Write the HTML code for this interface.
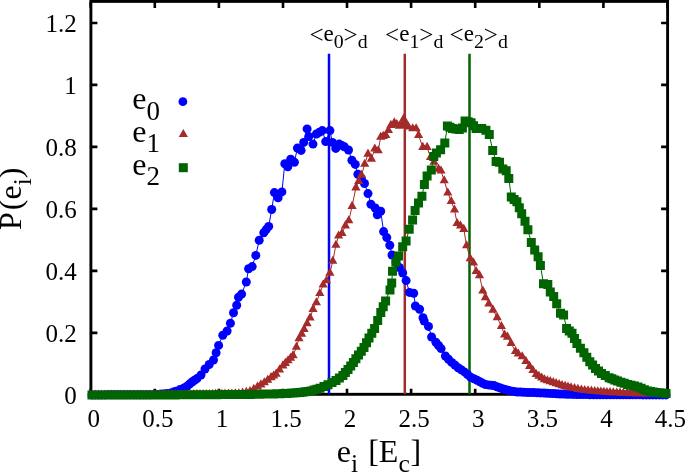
<!DOCTYPE html>
<html><head><meta charset="utf-8"><style>html,body{margin:0;padding:0;background:#fff;width:685px;height:473px;overflow:hidden}svg{display:block;font-family:"Liberation Serif",serif;will-change:transform}</style></head><body>
<svg width="685" height="473" viewBox="0 0 685 473">
<path d="M90.9 394.9h6.5M667.6 394.9h-6.5M90.9 332.9h6.5M667.6 332.9h-6.5M90.9 270.9h6.5M667.6 270.9h-6.5M90.9 208.9h6.5M667.6 208.9h-6.5M90.9 146.9h6.5M667.6 146.9h-6.5M90.9 84.9h6.5M667.6 84.9h-6.5M90.9 23h6.5M667.6 23h-6.5M90.7 394.3v-5.6M90.7 1.4v6.5M154.8 394.3v-5.6M154.8 1.4v6.5M218.9 394.3v-5.6M218.9 1.4v6.5M283 394.3v-5.6M283 1.4v6.5M347 394.3v-5.6M347 1.4v6.5M411.1 394.3v-5.6M411.1 1.4v6.5M475.2 394.3v-5.6M475.2 1.4v6.5M539.3 394.3v-5.6M539.3 1.4v6.5M603.4 394.3v-5.6M603.4 1.4v6.5M667.4 394.3v-5.6M667.4 1.4v6.5" stroke="#000" stroke-width="2.6" fill="none"/>
<rect x="90.9" y="1.4" width="576.7" height="392.9" fill="none" stroke="#000" stroke-width="2.9"/>
<path d="M329 53.7V394.3" stroke="#0000ff" stroke-width="2.5"/>
<path d="M404.8 53.7V394.3" stroke="#a52a2a" stroke-width="2.5"/>
<path d="M469.5 53.7V394.3" stroke="#006400" stroke-width="2.5"/>
<g fill="#0000ff"><polyline fill="none" stroke="#0000ff" stroke-width="1" points="92,394.9 95.1,394.9 98.2,394.9 101.3,394.9 104.4,394.9 107.6,394.8 110.7,394.8 113.8,394.8 116.9,394.8 120,394.8 123.3,394.8 126.7,394.8 130,394.8 133.3,394.8 136.7,394.8 140,394.8 143.3,394.8 146.7,394.8 150,394.8 154,394.6 158,394.4 161.5,394.1 165,393.8 168,393.4 171,393 173.5,392.1 176,391.3 180,389.6 184,388 187,386.2 189.5,384.1 192,382 194.5,380.3 197,378.6 201,375 205,369 209.2,364.5 213.5,360 216.1,352.7 218.6,345.4 222.8,335.2 227.1,331 230.4,323.3 233.5,312.7 236.7,305.3 238.5,297.3 241.6,294.1 246.3,282 248.6,268.7 252.2,266.6 255.8,255.4 259.2,240.2 263.8,232.8 266.2,229.6 268.7,226.4 271.7,209.5 274.4,192.6 278.1,197.8 281.9,191.9 284.8,163.7 287.8,166.7 290.7,159.3 294.4,162.2 297.4,148.1 301.1,150.4 303.7,142.4 307.1,128.9 308.8,136.5 313,144.1 316.4,134 319.4,132.3 322.3,130.6 325.7,141.6 329.9,130.6 332.4,142.4 335.8,148.4 339.2,144.1 341.8,145.4 344.3,146.7 348.5,150 351.9,160.2 355.3,164.4 357.9,174.3 361.3,178.5 364.5,183.5 368,193.6 370.9,204.2 375.2,208 377.3,214.7 380.7,211.3 383.6,231.6 386.8,237.6 389.8,245.2 392,255 396,262 399.4,267.5 402.7,273 406.1,280.6 409.5,292.4 413.7,293.3 415.4,306 419.6,309.3 423,317.8 424.2,321.1 428.5,326.4 431.6,337 435.9,342.3 438.5,345.5 441.1,348.6 445.4,356 448.5,359.2 451.7,362.4 454.9,365 458.1,367.7 461.2,369.8 464.4,371.9 467.5,374.5 470.7,377.2 473.9,378.8 477.1,380.3 479.9,381.7 482.7,383.2 485.5,384.6 488.3,384.9 491.2,385.3 494,385.6 496.8,386.7 499.7,387.7 502.5,388.8 505.3,389.5 508.1,390.2 510.9,390.9 514.1,391.4 517.3,392 520.5,392.1 523.6,392.2 526.8,392.4 530,392.5 533.5,392.6 537,392.8 540.5,392.9 544,393 547.2,393.2 550.4,393.4 553.6,393.6 556.8,393.8 560,394 563.3,394.1 566.7,394.2 570,394.3 573.3,394.4 576.7,394.5 580,394.6 583.3,394.6 586.7,394.6 590,394.7 593.3,394.7 596.7,394.7 600,394.7 603.3,394.7 606.7,394.7 610,394.8 613.3,394.8 616.7,394.8 620,394.8 623.3,394.8 626.6,394.8 629.9,394.8 633.1,394.8 636.4,394.8 639.7,394.8 643,394.9 646.3,394.9 649.6,394.9 652.9,394.9 656.1,394.9 659.4,394.9 662.7,394.9 666,394.9"/><circle cx="92" cy="394.9" r="4.5"/><circle cx="95.1" cy="394.9" r="4.5"/><circle cx="98.2" cy="394.9" r="4.5"/><circle cx="101.3" cy="394.9" r="4.5"/><circle cx="104.4" cy="394.9" r="4.5"/><circle cx="107.6" cy="394.8" r="4.5"/><circle cx="110.7" cy="394.8" r="4.5"/><circle cx="113.8" cy="394.8" r="4.5"/><circle cx="116.9" cy="394.8" r="4.5"/><circle cx="120" cy="394.8" r="4.5"/><circle cx="123.3" cy="394.8" r="4.5"/><circle cx="126.7" cy="394.8" r="4.5"/><circle cx="130" cy="394.8" r="4.5"/><circle cx="133.3" cy="394.8" r="4.5"/><circle cx="136.7" cy="394.8" r="4.5"/><circle cx="140" cy="394.8" r="4.5"/><circle cx="143.3" cy="394.8" r="4.5"/><circle cx="146.7" cy="394.8" r="4.5"/><circle cx="150" cy="394.8" r="4.5"/><circle cx="154" cy="394.6" r="4.5"/><circle cx="158" cy="394.4" r="4.5"/><circle cx="161.5" cy="394.1" r="4.5"/><circle cx="165" cy="393.8" r="4.5"/><circle cx="168" cy="393.4" r="4.5"/><circle cx="171" cy="393" r="4.5"/><circle cx="173.5" cy="392.1" r="4.5"/><circle cx="176" cy="391.3" r="4.5"/><circle cx="180" cy="389.6" r="4.5"/><circle cx="184" cy="388" r="4.5"/><circle cx="187" cy="386.2" r="4.5"/><circle cx="189.5" cy="384.1" r="4.5"/><circle cx="192" cy="382" r="4.5"/><circle cx="194.5" cy="380.3" r="4.5"/><circle cx="197" cy="378.6" r="4.5"/><circle cx="201" cy="375" r="4.5"/><circle cx="205" cy="369" r="4.5"/><circle cx="209.2" cy="364.5" r="4.5"/><circle cx="213.5" cy="360" r="4.5"/><circle cx="216.1" cy="352.7" r="4.5"/><circle cx="218.6" cy="345.4" r="4.5"/><circle cx="222.8" cy="335.2" r="4.5"/><circle cx="227.1" cy="331" r="4.5"/><circle cx="230.4" cy="323.3" r="4.5"/><circle cx="233.5" cy="312.7" r="4.5"/><circle cx="236.7" cy="305.3" r="4.5"/><circle cx="238.5" cy="297.3" r="4.5"/><circle cx="241.6" cy="294.1" r="4.5"/><circle cx="246.3" cy="282" r="4.5"/><circle cx="248.6" cy="268.7" r="4.5"/><circle cx="252.2" cy="266.6" r="4.5"/><circle cx="255.8" cy="255.4" r="4.5"/><circle cx="259.2" cy="240.2" r="4.5"/><circle cx="263.8" cy="232.8" r="4.5"/><circle cx="266.2" cy="229.6" r="4.5"/><circle cx="268.7" cy="226.4" r="4.5"/><circle cx="271.7" cy="209.5" r="4.5"/><circle cx="274.4" cy="192.6" r="4.5"/><circle cx="278.1" cy="197.8" r="4.5"/><circle cx="281.9" cy="191.9" r="4.5"/><circle cx="284.8" cy="163.7" r="4.5"/><circle cx="287.8" cy="166.7" r="4.5"/><circle cx="290.7" cy="159.3" r="4.5"/><circle cx="294.4" cy="162.2" r="4.5"/><circle cx="297.4" cy="148.1" r="4.5"/><circle cx="301.1" cy="150.4" r="4.5"/><circle cx="303.7" cy="142.4" r="4.5"/><circle cx="307.1" cy="128.9" r="4.5"/><circle cx="308.8" cy="136.5" r="4.5"/><circle cx="313" cy="144.1" r="4.5"/><circle cx="316.4" cy="134" r="4.5"/><circle cx="319.4" cy="132.3" r="4.5"/><circle cx="322.3" cy="130.6" r="4.5"/><circle cx="325.7" cy="141.6" r="4.5"/><circle cx="329.9" cy="130.6" r="4.5"/><circle cx="332.4" cy="142.4" r="4.5"/><circle cx="335.8" cy="148.4" r="4.5"/><circle cx="339.2" cy="144.1" r="4.5"/><circle cx="341.8" cy="145.4" r="4.5"/><circle cx="344.3" cy="146.7" r="4.5"/><circle cx="348.5" cy="150" r="4.5"/><circle cx="351.9" cy="160.2" r="4.5"/><circle cx="355.3" cy="164.4" r="4.5"/><circle cx="357.9" cy="174.3" r="4.5"/><circle cx="361.3" cy="178.5" r="4.5"/><circle cx="364.5" cy="183.5" r="4.5"/><circle cx="368" cy="193.6" r="4.5"/><circle cx="370.9" cy="204.2" r="4.5"/><circle cx="375.2" cy="208" r="4.5"/><circle cx="377.3" cy="214.7" r="4.5"/><circle cx="380.7" cy="211.3" r="4.5"/><circle cx="383.6" cy="231.6" r="4.5"/><circle cx="386.8" cy="237.6" r="4.5"/><circle cx="389.8" cy="245.2" r="4.5"/><circle cx="392" cy="255" r="4.5"/><circle cx="396" cy="262" r="4.5"/><circle cx="399.4" cy="267.5" r="4.5"/><circle cx="402.7" cy="273" r="4.5"/><circle cx="406.1" cy="280.6" r="4.5"/><circle cx="409.5" cy="292.4" r="4.5"/><circle cx="413.7" cy="293.3" r="4.5"/><circle cx="415.4" cy="306" r="4.5"/><circle cx="419.6" cy="309.3" r="4.5"/><circle cx="423" cy="317.8" r="4.5"/><circle cx="424.2" cy="321.1" r="4.5"/><circle cx="428.5" cy="326.4" r="4.5"/><circle cx="431.6" cy="337" r="4.5"/><circle cx="435.9" cy="342.3" r="4.5"/><circle cx="438.5" cy="345.5" r="4.5"/><circle cx="441.1" cy="348.6" r="4.5"/><circle cx="445.4" cy="356" r="4.5"/><circle cx="448.5" cy="359.2" r="4.5"/><circle cx="451.7" cy="362.4" r="4.5"/><circle cx="454.9" cy="365" r="4.5"/><circle cx="458.1" cy="367.7" r="4.5"/><circle cx="461.2" cy="369.8" r="4.5"/><circle cx="464.4" cy="371.9" r="4.5"/><circle cx="467.5" cy="374.5" r="4.5"/><circle cx="470.7" cy="377.2" r="4.5"/><circle cx="473.9" cy="378.8" r="4.5"/><circle cx="477.1" cy="380.3" r="4.5"/><circle cx="479.9" cy="381.7" r="4.5"/><circle cx="482.7" cy="383.2" r="4.5"/><circle cx="485.5" cy="384.6" r="4.5"/><circle cx="488.3" cy="384.9" r="4.5"/><circle cx="491.2" cy="385.3" r="4.5"/><circle cx="494" cy="385.6" r="4.5"/><circle cx="496.8" cy="386.7" r="4.5"/><circle cx="499.7" cy="387.7" r="4.5"/><circle cx="502.5" cy="388.8" r="4.5"/><circle cx="505.3" cy="389.5" r="4.5"/><circle cx="508.1" cy="390.2" r="4.5"/><circle cx="510.9" cy="390.9" r="4.5"/><circle cx="514.1" cy="391.4" r="4.5"/><circle cx="517.3" cy="392" r="4.5"/><circle cx="520.5" cy="392.1" r="4.5"/><circle cx="523.6" cy="392.2" r="4.5"/><circle cx="526.8" cy="392.4" r="4.5"/><circle cx="530" cy="392.5" r="4.5"/><circle cx="533.5" cy="392.6" r="4.5"/><circle cx="537" cy="392.8" r="4.5"/><circle cx="540.5" cy="392.9" r="4.5"/><circle cx="544" cy="393" r="4.5"/><circle cx="547.2" cy="393.2" r="4.5"/><circle cx="550.4" cy="393.4" r="4.5"/><circle cx="553.6" cy="393.6" r="4.5"/><circle cx="556.8" cy="393.8" r="4.5"/><circle cx="560" cy="394" r="4.5"/><circle cx="563.3" cy="394.1" r="4.5"/><circle cx="566.7" cy="394.2" r="4.5"/><circle cx="570" cy="394.3" r="4.5"/><circle cx="573.3" cy="394.4" r="4.5"/><circle cx="576.7" cy="394.5" r="4.5"/><circle cx="580" cy="394.6" r="4.5"/><circle cx="583.3" cy="394.6" r="4.5"/><circle cx="586.7" cy="394.6" r="4.5"/><circle cx="590" cy="394.7" r="4.5"/><circle cx="593.3" cy="394.7" r="4.5"/><circle cx="596.7" cy="394.7" r="4.5"/><circle cx="600" cy="394.7" r="4.5"/><circle cx="603.3" cy="394.7" r="4.5"/><circle cx="606.7" cy="394.7" r="4.5"/><circle cx="610" cy="394.8" r="4.5"/><circle cx="613.3" cy="394.8" r="4.5"/><circle cx="616.7" cy="394.8" r="4.5"/><circle cx="620" cy="394.8" r="4.5"/><circle cx="623.3" cy="394.8" r="4.5"/><circle cx="626.6" cy="394.8" r="4.5"/><circle cx="629.9" cy="394.8" r="4.5"/><circle cx="633.1" cy="394.8" r="4.5"/><circle cx="636.4" cy="394.8" r="4.5"/><circle cx="639.7" cy="394.8" r="4.5"/><circle cx="643" cy="394.9" r="4.5"/><circle cx="646.3" cy="394.9" r="4.5"/><circle cx="649.6" cy="394.9" r="4.5"/><circle cx="652.9" cy="394.9" r="4.5"/><circle cx="656.1" cy="394.9" r="4.5"/><circle cx="659.4" cy="394.9" r="4.5"/><circle cx="662.7" cy="394.9" r="4.5"/><circle cx="666" cy="394.9" r="4.5"/></g>
<g fill="#a52a2a"><polyline fill="none" stroke="#a52a2a" stroke-width="1" points="92,394.9 95.2,394.9 98.4,394.9 101.7,394.9 104.9,394.9 108.1,394.9 111.3,394.9 114.6,394.9 117.8,394.9 121,394.9 124.2,394.8 127.4,394.8 130.7,394.8 133.9,394.8 137.1,394.8 140.3,394.8 143.6,394.8 146.8,394.8 150,394.8 153.1,394.8 156.2,394.8 159.4,394.7 162.5,394.7 165.6,394.7 168.8,394.7 171.9,394.7 175,394.6 178.1,394.6 181.2,394.6 184.4,394.6 187.5,394.6 190.6,394.6 193.8,394.5 196.9,394.5 200,394.5 203.1,394.4 206.2,394.4 209.4,394.3 212.5,394.2 215.6,394.2 218.8,394.1 221.9,394.1 225,394 228.5,393.9 231.9,393.8 235.4,393.7 238.9,393.6 242.6,392.9 246.3,392.2 250,391.5 253.8,389.1 257.5,386.8 260.9,384.7 264.3,382.6 267.7,380.1 271.1,377.5 273.6,375.8 276.1,374.1 279.5,369.9 282.9,365.7 285.4,363.1 288,360.6 290.6,358.1 293.1,355.5 296.4,347.1 299,338.6 301.6,334 304.1,329.4 307.1,323.6 310.1,317.8 313,309.4 316.4,302.6 319.8,293.3 323.1,284.8 326.5,280.6 329.9,273 332.8,261.1 335.9,245.1 338.6,235.8 342,233.3 345.4,225.7 348.8,220.6 352.1,206.2 355.9,187.7 358.7,181.4 361.5,175.1 364.7,164.1 368,154 371.4,159 374.8,148.9 378.2,150.6 380.7,137.1 383.2,136.2 385.8,135.4 388.4,130.3 390.9,125.2 394.3,122.7 396.8,124.4 399.3,126.1 401.7,125.2 403.5,119 406,123 408.5,126.9 412.7,128.6 416.1,128.6 418.6,135.4 422.8,147.2 427.1,147.2 430.5,157.4 434,162 438.6,169.1 441,170.8 444.2,180.6 447.8,192.8 451.2,201.3 454.5,209.8 457.1,223.3 460.5,225.8 463.8,229.2 466.6,245.6 470.2,258.6 473.5,262.8 476.1,271.3 479.5,275.5 482.8,290.8 485.4,297.5 488.8,303.8 493,310 497.2,317.5 501.4,326.4 504.6,334.9 507.5,337 511.1,343.3 515.5,351.4 518.3,353.9 522.2,356.6 525.9,361.4 529.6,366.2 532.9,370.3 536.2,374.4 538.9,376.1 541.7,377.9 544.4,379.6 547.4,380.6 550.3,381.5 553.3,382.5 556.2,383.5 559.2,384.5 562.1,385.5 565.1,386.2 568,387 571,387.7 574.5,388.4 577.9,389.2 581.4,389.9 584.7,390.3 588,390.6 591.4,391 594.7,391.4 597.8,391.6 600.8,391.8 603.9,392.1 606.9,392.3 610,392.5 613.3,392.7 616.7,392.8 620,393 623.3,393.2 626.7,393.3 630,393.5 633.3,393.6 636.5,393.7 639.8,393.8 643.1,393.9 646.4,394 649.6,394 652.9,394.1 656.2,394.2 659.5,394.3 662.7,394.4 666,394.5"/><path d="M92 389.5l4.6 8.1h-9.2zM95.2 389.5l4.6 8.1h-9.2zM98.4 389.5l4.6 8.1h-9.2zM101.7 389.5l4.6 8.1h-9.2zM104.9 389.5l4.6 8.1h-9.2zM108.1 389.5l4.6 8.1h-9.2zM111.3 389.5l4.6 8.1h-9.2zM114.6 389.5l4.6 8.1h-9.2zM117.8 389.5l4.6 8.1h-9.2zM121 389.5l4.6 8.1h-9.2zM124.2 389.4l4.6 8.1h-9.2zM127.4 389.4l4.6 8.1h-9.2zM130.7 389.4l4.6 8.1h-9.2zM133.9 389.4l4.6 8.1h-9.2zM137.1 389.4l4.6 8.1h-9.2zM140.3 389.4l4.6 8.1h-9.2zM143.6 389.4l4.6 8.1h-9.2zM146.8 389.4l4.6 8.1h-9.2zM150 389.4l4.6 8.1h-9.2zM153.1 389.4l4.6 8.1h-9.2zM156.2 389.4l4.6 8.1h-9.2zM159.4 389.3l4.6 8.1h-9.2zM162.5 389.3l4.6 8.1h-9.2zM165.6 389.3l4.6 8.1h-9.2zM168.8 389.3l4.6 8.1h-9.2zM171.9 389.3l4.6 8.1h-9.2zM175 389.2l4.6 8.1h-9.2zM178.1 389.2l4.6 8.1h-9.2zM181.2 389.2l4.6 8.1h-9.2zM184.4 389.2l4.6 8.1h-9.2zM187.5 389.2l4.6 8.1h-9.2zM190.6 389.2l4.6 8.1h-9.2zM193.8 389.1l4.6 8.1h-9.2zM196.9 389.1l4.6 8.1h-9.2zM200 389.1l4.6 8.1h-9.2zM203.1 389l4.6 8.1h-9.2zM206.2 389l4.6 8.1h-9.2zM209.4 388.9l4.6 8.1h-9.2zM212.5 388.9l4.6 8.1h-9.2zM215.6 388.8l4.6 8.1h-9.2zM218.8 388.7l4.6 8.1h-9.2zM221.9 388.7l4.6 8.1h-9.2zM225 388.6l4.6 8.1h-9.2zM228.5 388.5l4.6 8.1h-9.2zM231.9 388.4l4.6 8.1h-9.2zM235.4 388.3l4.6 8.1h-9.2zM238.9 388.2l4.6 8.1h-9.2zM242.6 387.5l4.6 8.1h-9.2zM246.3 386.8l4.6 8.1h-9.2zM250 386.1l4.6 8.1h-9.2zM253.8 383.8l4.6 8.1h-9.2zM257.5 381.4l4.6 8.1h-9.2zM260.9 379.3l4.6 8.1h-9.2zM264.3 377.2l4.6 8.1h-9.2zM267.7 374.7l4.6 8.1h-9.2zM271.1 372.1l4.6 8.1h-9.2zM273.6 370.4l4.6 8.1h-9.2zM276.1 368.7l4.6 8.1h-9.2zM279.5 364.5l4.6 8.1h-9.2zM282.9 360.3l4.6 8.1h-9.2zM285.4 357.8l4.6 8.1h-9.2zM288 355.2l4.6 8.1h-9.2zM290.6 352.7l4.6 8.1h-9.2zM293.1 350.1l4.6 8.1h-9.2zM296.4 341.7l4.6 8.1h-9.2zM299 333.2l4.6 8.1h-9.2zM301.6 328.6l4.6 8.1h-9.2zM304.1 324l4.6 8.1h-9.2zM307.1 318.2l4.6 8.1h-9.2zM310.1 312.4l4.6 8.1h-9.2zM313 304l4.6 8.1h-9.2zM316.4 297.2l4.6 8.1h-9.2zM319.8 287.9l4.6 8.1h-9.2zM323.1 279.4l4.6 8.1h-9.2zM326.5 275.2l4.6 8.1h-9.2zM329.9 267.6l4.6 8.1h-9.2zM332.8 255.7l4.6 8.1h-9.2zM335.9 239.7l4.6 8.1h-9.2zM338.6 230.4l4.6 8.1h-9.2zM342 227.9l4.6 8.1h-9.2zM345.4 220.3l4.6 8.1h-9.2zM348.8 215.2l4.6 8.1h-9.2zM352.1 200.8l4.6 8.1h-9.2zM355.9 182.3l4.6 8.1h-9.2zM358.7 176l4.6 8.1h-9.2zM361.5 169.7l4.6 8.1h-9.2zM364.7 158.7l4.6 8.1h-9.2zM368 148.6l4.6 8.1h-9.2zM371.4 153.6l4.6 8.1h-9.2zM374.8 143.5l4.6 8.1h-9.2zM378.2 145.2l4.6 8.1h-9.2zM380.7 131.7l4.6 8.1h-9.2zM383.2 130.8l4.6 8.1h-9.2zM385.8 130l4.6 8.1h-9.2zM388.4 124.9l4.6 8.1h-9.2zM390.9 119.8l4.6 8.1h-9.2zM394.3 117.3l4.6 8.1h-9.2zM396.8 119l4.6 8.1h-9.2zM399.3 120.7l4.6 8.1h-9.2zM401.7 119.8l4.6 8.1h-9.2zM403.5 113.6l4.6 8.1h-9.2zM406 117.5l4.6 8.1h-9.2zM408.5 121.5l4.6 8.1h-9.2zM412.7 123.2l4.6 8.1h-9.2zM416.1 123.2l4.6 8.1h-9.2zM418.6 130l4.6 8.1h-9.2zM422.8 141.8l4.6 8.1h-9.2zM427.1 141.8l4.6 8.1h-9.2zM430.5 152l4.6 8.1h-9.2zM434 156.6l4.6 8.1h-9.2zM438.6 163.7l4.6 8.1h-9.2zM441 165.4l4.6 8.1h-9.2zM444.2 175.2l4.6 8.1h-9.2zM447.8 187.4l4.6 8.1h-9.2zM451.2 195.9l4.6 8.1h-9.2zM454.5 204.4l4.6 8.1h-9.2zM457.1 217.9l4.6 8.1h-9.2zM460.5 220.4l4.6 8.1h-9.2zM463.8 223.8l4.6 8.1h-9.2zM466.6 240.2l4.6 8.1h-9.2zM470.2 253.2l4.6 8.1h-9.2zM473.5 257.4l4.6 8.1h-9.2zM476.1 265.9l4.6 8.1h-9.2zM479.5 270.1l4.6 8.1h-9.2zM482.8 285.4l4.6 8.1h-9.2zM485.4 292.1l4.6 8.1h-9.2zM488.8 298.4l4.6 8.1h-9.2zM493 304.6l4.6 8.1h-9.2zM497.2 312.1l4.6 8.1h-9.2zM501.4 321l4.6 8.1h-9.2zM504.6 329.5l4.6 8.1h-9.2zM507.5 331.6l4.6 8.1h-9.2zM511.1 337.9l4.6 8.1h-9.2zM515.5 346l4.6 8.1h-9.2zM518.3 348.5l4.6 8.1h-9.2zM522.2 351.2l4.6 8.1h-9.2zM525.9 356l4.6 8.1h-9.2zM529.6 360.8l4.6 8.1h-9.2zM532.9 364.9l4.6 8.1h-9.2zM536.2 369l4.6 8.1h-9.2zM538.9 370.7l4.6 8.1h-9.2zM541.7 372.5l4.6 8.1h-9.2zM544.4 374.2l4.6 8.1h-9.2zM547.4 375.2l4.6 8.1h-9.2zM550.3 376.1l4.6 8.1h-9.2zM553.3 377.1l4.6 8.1h-9.2zM556.2 378.1l4.6 8.1h-9.2zM559.2 379.1l4.6 8.1h-9.2zM562.1 380.1l4.6 8.1h-9.2zM565.1 380.8l4.6 8.1h-9.2zM568 381.6l4.6 8.1h-9.2zM571 382.3l4.6 8.1h-9.2zM574.5 383l4.6 8.1h-9.2zM577.9 383.8l4.6 8.1h-9.2zM581.4 384.5l4.6 8.1h-9.2zM584.7 384.9l4.6 8.1h-9.2zM588 385.2l4.6 8.1h-9.2zM591.4 385.6l4.6 8.1h-9.2zM594.7 386l4.6 8.1h-9.2zM597.8 386.2l4.6 8.1h-9.2zM600.8 386.4l4.6 8.1h-9.2zM603.9 386.7l4.6 8.1h-9.2zM606.9 386.9l4.6 8.1h-9.2zM610 387.1l4.6 8.1h-9.2zM613.3 387.3l4.6 8.1h-9.2zM616.7 387.4l4.6 8.1h-9.2zM620 387.6l4.6 8.1h-9.2zM623.3 387.8l4.6 8.1h-9.2zM626.7 387.9l4.6 8.1h-9.2zM630 388.1l4.6 8.1h-9.2zM633.3 388.2l4.6 8.1h-9.2zM636.5 388.3l4.6 8.1h-9.2zM639.8 388.4l4.6 8.1h-9.2zM643.1 388.5l4.6 8.1h-9.2zM646.4 388.6l4.6 8.1h-9.2zM649.6 388.6l4.6 8.1h-9.2zM652.9 388.7l4.6 8.1h-9.2zM656.2 388.8l4.6 8.1h-9.2zM659.5 388.9l4.6 8.1h-9.2zM662.7 389l4.6 8.1h-9.2zM666 389.1l4.6 8.1h-9.2z"/></g>
<g fill="#006400"><polyline fill="none" stroke="#006400" stroke-width="1" points="92,394.9 95.2,394.9 98.4,394.9 101.7,394.9 104.9,394.9 108.1,394.9 111.3,394.9 114.6,394.9 117.8,394.9 121,394.9 124.2,394.9 127.4,394.9 130.7,394.9 133.9,394.9 137.1,394.9 140.3,394.9 143.6,394.9 146.8,394.9 150,394.9 153.1,394.9 156.2,394.9 159.4,394.9 162.5,394.9 165.6,394.9 168.8,394.9 171.9,394.9 175,394.9 178.1,394.8 181.2,394.8 184.4,394.8 187.5,394.8 190.6,394.8 193.8,394.8 196.9,394.8 200,394.8 203.3,394.8 206.7,394.8 210,394.7 213.3,394.7 216.7,394.7 220,394.6 223.3,394.6 226.7,394.6 230,394.6 233.3,394.6 236.7,394.5 240,394.5 243.3,394.4 246.7,394.4 250,394.4 253.3,394.3 256.7,394.2 260,394.2 263.4,394.1 266.7,394 270.1,393.9 273.4,393.9 276.8,393.8 280.1,393.7 283.5,393.6 286.7,393.4 289.9,393.2 293,393 296.2,392.8 299.4,392.6 302.3,392.2 305.2,391.8 308.1,391.4 311,391 314,390.1 317,389.2 320,388.3 324,386.6 328,384.8 332,382.6 336,380.5 339.4,378 342.9,375.5 345.4,372.5 348,369.5 350.7,366 353.4,362.5 355.9,358.8 358.5,355 361.2,351.2 364,347.5 366.5,342.8 369,338 371.8,333.2 374.6,328.5 377.7,320.5 380.8,312.5 383.2,306.8 385.6,301 390,290 391.7,283.1 392.5,271.3 395.9,262 398.5,256.1 402.7,246.8 406.1,241 409.2,229.2 412.6,219.9 415.1,210.6 418.5,203 421.9,196.2 424.4,184.4 427.1,176 431.3,170.1 433.8,156.5 436.4,153.1 440.6,149.8 444.8,143 447.4,126.1 449.9,127.3 452.5,128.6 455.9,129.1 459.2,129.5 462.4,127.9 465.1,121 468.1,121.8 471.1,122.7 473.6,125.7 476.1,128.6 478.9,128.6 481.7,128.5 485.9,130.2 489.3,134.4 492.7,150.5 496.1,161.5 499.5,162.3 502.8,169.1 506.2,170.8 508.8,178.4 511.3,197 514.1,199.4 516.9,201.8 519.3,207.8 521.7,213.7 525,221.3 527.9,229.8 531.3,242.5 534.7,250.1 538.1,256.8 540.4,265.5 543.5,283.7 547.8,284.5 550.3,292.1 553.7,296.4 556.7,303.7 560.5,313.3 563.6,315 566.6,328.5 569.3,330.9 572,333.2 574.5,338.4 576.9,343.6 580.4,348.2 583.9,352.8 586.8,357.3 589.8,361.8 592.6,365.1 595.5,368.4 598.5,370.9 601.5,373.5 605.3,375.6 609.1,377.7 611.9,378.8 614.7,380 617.5,381.1 620.9,382.2 624.3,383.3 627.7,384.4 631.1,385.3 634.4,386.1 637.8,387 641.1,388.3 644.4,389.7 647.7,391 650.5,391.5 653.2,392 656,392.5 659.3,392.8 662.7,393.1 666,393.4"/><path d="M87.5 390.4h9v9h-9zM90.7 390.4h9v9h-9zM93.9 390.4h9v9h-9zM97.2 390.4h9v9h-9zM100.4 390.4h9v9h-9zM103.6 390.4h9v9h-9zM106.8 390.4h9v9h-9zM110.1 390.4h9v9h-9zM113.3 390.4h9v9h-9zM116.5 390.4h9v9h-9zM119.7 390.4h9v9h-9zM122.9 390.4h9v9h-9zM126.2 390.4h9v9h-9zM129.4 390.4h9v9h-9zM132.6 390.4h9v9h-9zM135.8 390.4h9v9h-9zM139.1 390.4h9v9h-9zM142.3 390.4h9v9h-9zM145.5 390.4h9v9h-9zM148.6 390.4h9v9h-9zM151.8 390.4h9v9h-9zM154.9 390.4h9v9h-9zM158 390.4h9v9h-9zM161.1 390.4h9v9h-9zM164.2 390.4h9v9h-9zM167.4 390.4h9v9h-9zM170.5 390.4h9v9h-9zM173.6 390.3h9v9h-9zM176.8 390.3h9v9h-9zM179.9 390.3h9v9h-9zM183 390.3h9v9h-9zM186.1 390.3h9v9h-9zM189.2 390.3h9v9h-9zM192.4 390.3h9v9h-9zM195.5 390.3h9v9h-9zM198.8 390.3h9v9h-9zM202.2 390.2h9v9h-9zM205.5 390.2h9v9h-9zM208.8 390.2h9v9h-9zM212.2 390.2h9v9h-9zM215.5 390.1h9v9h-9zM218.8 390.1h9v9h-9zM222.2 390.1h9v9h-9zM225.5 390.1h9v9h-9zM228.8 390.1h9v9h-9zM232.2 390h9v9h-9zM235.5 390h9v9h-9zM238.8 389.9h9v9h-9zM242.2 389.9h9v9h-9zM245.5 389.9h9v9h-9zM248.8 389.8h9v9h-9zM252.2 389.8h9v9h-9zM255.5 389.7h9v9h-9zM258.9 389.6h9v9h-9zM262.2 389.5h9v9h-9zM265.6 389.4h9v9h-9zM268.9 389.4h9v9h-9zM272.3 389.3h9v9h-9zM275.6 389.2h9v9h-9zM279 389.1h9v9h-9zM282.2 388.9h9v9h-9zM285.4 388.7h9v9h-9zM288.5 388.5h9v9h-9zM291.7 388.3h9v9h-9zM294.9 388.1h9v9h-9zM297.8 387.7h9v9h-9zM300.7 387.3h9v9h-9zM303.6 386.9h9v9h-9zM306.5 386.5h9v9h-9zM309.5 385.6h9v9h-9zM312.5 384.7h9v9h-9zM315.5 383.8h9v9h-9zM319.5 382.1h9v9h-9zM323.5 380.3h9v9h-9zM327.5 378.1h9v9h-9zM331.5 376h9v9h-9zM334.9 373.5h9v9h-9zM338.4 371h9v9h-9zM340.9 368h9v9h-9zM343.5 365h9v9h-9zM346.2 361.5h9v9h-9zM348.9 358h9v9h-9zM351.4 354.2h9v9h-9zM354 350.5h9v9h-9zM356.8 346.8h9v9h-9zM359.5 343h9v9h-9zM362 338.2h9v9h-9zM364.5 333.5h9v9h-9zM367.3 328.8h9v9h-9zM370.1 324h9v9h-9zM373.2 316h9v9h-9zM376.3 308h9v9h-9zM378.7 302.2h9v9h-9zM381.1 296.5h9v9h-9zM385.5 285.5h9v9h-9zM387.2 278.6h9v9h-9zM388 266.8h9v9h-9zM391.4 257.5h9v9h-9zM394 251.6h9v9h-9zM398.2 242.3h9v9h-9zM401.6 236.5h9v9h-9zM404.7 224.7h9v9h-9zM408.1 215.4h9v9h-9zM410.6 206.1h9v9h-9zM414 198.5h9v9h-9zM417.4 191.7h9v9h-9zM419.9 179.9h9v9h-9zM422.6 171.5h9v9h-9zM426.8 165.6h9v9h-9zM429.3 152h9v9h-9zM431.9 148.6h9v9h-9zM436.1 145.3h9v9h-9zM440.3 138.5h9v9h-9zM442.9 121.6h9v9h-9zM445.4 122.8h9v9h-9zM448 124.1h9v9h-9zM451.4 124.6h9v9h-9zM454.7 125h9v9h-9zM457.9 123.4h9v9h-9zM460.6 116.5h9v9h-9zM463.6 117.3h9v9h-9zM466.6 118.2h9v9h-9zM469.1 121.2h9v9h-9zM471.6 124.1h9v9h-9zM474.4 124.1h9v9h-9zM477.2 124h9v9h-9zM481.4 125.7h9v9h-9zM484.8 129.9h9v9h-9zM488.2 146h9v9h-9zM491.6 157h9v9h-9zM495 157.8h9v9h-9zM498.3 164.6h9v9h-9zM501.7 166.3h9v9h-9zM504.3 173.9h9v9h-9zM506.8 192.5h9v9h-9zM509.6 194.9h9v9h-9zM512.4 197.3h9v9h-9zM514.8 203.2h9v9h-9zM517.2 209.2h9v9h-9zM520.5 216.8h9v9h-9zM523.4 225.3h9v9h-9zM526.8 238h9v9h-9zM530.2 245.6h9v9h-9zM533.6 252.3h9v9h-9zM535.9 261h9v9h-9zM539 279.2h9v9h-9zM543.3 280h9v9h-9zM545.8 287.6h9v9h-9zM549.2 291.9h9v9h-9zM552.2 299.2h9v9h-9zM556 308.8h9v9h-9zM559.1 310.5h9v9h-9zM562.1 324h9v9h-9zM564.8 326.4h9v9h-9zM567.5 328.7h9v9h-9zM570 333.9h9v9h-9zM572.4 339.1h9v9h-9zM575.9 343.7h9v9h-9zM579.4 348.3h9v9h-9zM582.3 352.8h9v9h-9zM585.3 357.3h9v9h-9zM588.1 360.6h9v9h-9zM591 363.9h9v9h-9zM594 366.4h9v9h-9zM597 369h9v9h-9zM600.8 371.1h9v9h-9zM604.6 373.2h9v9h-9zM607.4 374.3h9v9h-9zM610.2 375.5h9v9h-9zM613 376.6h9v9h-9zM616.4 377.7h9v9h-9zM619.8 378.8h9v9h-9zM623.2 379.9h9v9h-9zM626.6 380.8h9v9h-9zM629.9 381.6h9v9h-9zM633.3 382.5h9v9h-9zM636.6 383.8h9v9h-9zM639.9 385.2h9v9h-9zM643.2 386.5h9v9h-9zM646 387h9v9h-9zM648.7 387.5h9v9h-9zM651.5 388h9v9h-9zM654.8 388.3h9v9h-9zM658.2 388.6h9v9h-9zM661.5 388.9h9v9h-9z"/></g>
<g font-family="Liberation Serif" font-size="25" fill="#000"><text x="76.8" y="403.8" text-anchor="end">0</text><text x="76.8" y="341.8" text-anchor="end">0.2</text><text x="76.8" y="279.8" text-anchor="end">0.4</text><text x="76.8" y="217.8" text-anchor="end">0.6</text><text x="76.8" y="155.8" text-anchor="end">0.8</text><text x="76.8" y="93.8" text-anchor="end">1</text><text x="76.8" y="31.9" text-anchor="end">1.2</text><text x="93.7" y="427" text-anchor="middle">0</text><text x="157.8" y="427" text-anchor="middle">0.5</text><text x="221.9" y="427" text-anchor="middle">1</text><text x="286" y="427" text-anchor="middle">1.5</text><text x="350" y="427" text-anchor="middle">2</text><text x="414.1" y="427" text-anchor="middle">2.5</text><text x="478.2" y="427" text-anchor="middle">3</text><text x="542.3" y="427" text-anchor="middle">3.5</text><text x="606.4" y="427" text-anchor="middle">4</text><text x="670.4" y="427" text-anchor="middle">4.5</text></g>
<g font-family="Liberation Serif" font-size="32"><text x="132.2" y="109.1">e<tspan font-size="27" dy="10.4">0</tspan></text><text x="132.2" y="141.9">e<tspan font-size="27" dy="10.4">1</tspan></text><text x="132.2" y="174.7">e<tspan font-size="27" dy="10.4">2</tspan></text></g>
<circle cx="182.9" cy="101.7" r="4.4" fill="#0000ff"/>
<path d="M183.35 129.1l4.6 7.9h-9.2z" fill="#a52a2a"/>
<rect x="178.8" y="163.2" width="9" height="9" fill="#006400"/>
<text x="309.4" y="41" font-family="Liberation Serif" font-size="23"><tspan font-size="25" dy="2.2">&lt;</tspan><tspan dy="-2.2">e</tspan><tspan font-size="19.8" dy="7.2">0</tspan><tspan font-size="25" dy="-5">&gt;</tspan><tspan font-size="19.8" dy="4.9">d</tspan></text>
<text x="385.1" y="41" font-family="Liberation Serif" font-size="23"><tspan font-size="25" dy="2.2">&lt;</tspan><tspan dy="-2.2">e</tspan><tspan font-size="19.8" dy="7.2">1</tspan><tspan font-size="25" dy="-5">&gt;</tspan><tspan font-size="19.8" dy="4.9">d</tspan></text>
<text x="449.6" y="41" font-family="Liberation Serif" font-size="23"><tspan font-size="25" dy="2.2">&lt;</tspan><tspan dy="-2.2">e</tspan><tspan font-size="19.8" dy="7.2">2</tspan><tspan font-size="25" dy="-5">&gt;</tspan><tspan font-size="19.8" dy="4.9">d</tspan></text>
<text x="336.85" y="461.8" font-family="Liberation Serif" font-size="32">e<tspan font-size="25.6" dy="10">i</tspan><tspan dy="-10"> </tspan><tspan dx="2">[E</tspan><tspan font-size="25.6" dy="10">c</tspan><tspan dy="-10" dx="0.8">]</tspan></text>
<text transform="translate(21.4,230) rotate(-90)" font-family="Liberation Serif" font-size="32">P<tspan dx="2">(e</tspan><tspan font-size="25.6" dy="10">i</tspan><tspan dy="-10">)</tspan></text>
</svg>
</body></html>
